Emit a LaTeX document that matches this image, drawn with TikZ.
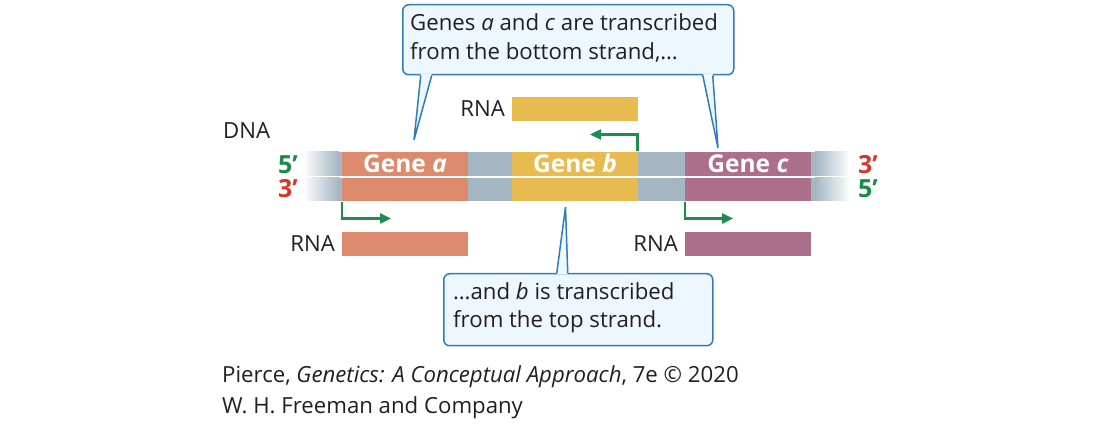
\documentclass[tikz,border=0pt]{standalone}
\usepackage{fontspec}
\setmainfont{Open Sans}
\usetikzlibrary{arrows.meta,calc}
\definecolor{genea}{HTML}{DD8A6D}
\definecolor{geneb}{HTML}{E8BB51}
\definecolor{genec}{HTML}{AB6E8B}
\definecolor{spacer}{HTML}{A3B6C2}
\definecolor{fivecol}{HTML}{1A8A48}
\definecolor{threecol}{HTML}{D0392B}
\definecolor{promcol}{HTML}{1E8C4E}
\definecolor{calloutline}{HTML}{2E7DB8}
\definecolor{calloutfill}{HTML}{EEF7FD}
\definecolor{txt}{HTML}{231F20}
\begin{document}
\begin{tikzpicture}[x=1pt,y=-1pt,
  font=\fontsize{22.2}{29}\selectfont, text=txt,
  bar/.style={inner sep=0pt, outer sep=0pt, minimum height=24pt, anchor=north west},
  genelbl/.style={text=white, font=\fontsize{24.5}{29}\selectfont\bfseries},
  endlbl/.style={font=\fontsize{25}{29}\selectfont\bfseries, inner sep=0pt},
  promoter/.style={draw=promcol, line width=2.4pt, -{Triangle[length=11pt,width=10pt]}},
  callout/.style={draw=calloutline, fill=calloutfill, line width=1.5pt, rounded corners=6pt,
     anchor=north west, align=left, inner sep=0pt},
  pointer/.style={draw=calloutline, line width=1.5pt, line join=miter},
  lbl/.style={inner sep=0pt}]
\useasboundingbox (0,0) rectangle (1100,427);

% ---- DNA strands: spacer background and fading ends
\fill[spacer] (338,152) rectangle (816,176);
\fill[spacer] (338,177.6) rectangle (816,201);
\shade[left color=white, right color=spacer] (303,152) rectangle (339,176);
\shade[left color=white, right color=spacer] (303,177.6) rectangle (339,201);
\shade[left color=spacer, right color=white] (815,152) rectangle (850,176);
\shade[left color=spacer, right color=white] (815,177.6) rectangle (850,201);

% ---- genes
\node[bar, fill=genea, minimum width=126pt] (gaT) at (342,152) {};
\node[bar, fill=genea, minimum width=126pt, minimum height=23.4pt] (gaB) at (342,177.6) {};
\node[bar, fill=geneb, minimum width=126pt] (gbT) at (512,152) {};
\node[bar, fill=geneb, minimum width=126pt, minimum height=23.4pt] (gbB) at (512,177.6) {};
\node[bar, fill=genec, minimum width=126pt] (gcT) at (685,152) {};
\node[bar, fill=genec, minimum width=126pt, minimum height=23.4pt] (gcB) at (685,177.6) {};
\node[genelbl, anchor=base] (gaL) at ($(gaT.center)+(0,9)$) {Gene \textit{a}};
\node[genelbl, anchor=base] (gbL) at ($(gbT.center)+(0,9)$) {Gene \textit{b}};
\node[genelbl, anchor=base] (gcL) at ($(gcT.center)+(0,9)$) {Gene \textit{c}};

% ---- strand ends
\node[endlbl, text=fivecol, anchor=base] (l5) at (288,174) {5’};
\node[endlbl, text=threecol, anchor=base] (l3) at (288,198) {3’};
\node[endlbl, text=threecol, anchor=base] (r3) at (868,174) {3’};
\node[endlbl, text=fivecol, anchor=base] (r5) at (868,198) {5’};
\node[lbl, anchor=base west] (dna) at (223,139) {DNA};

% ---- RNA products
\node[bar, fill=geneb, minimum width=126pt] (rnaB) at (512,97) {};
\node[bar, fill=genea, minimum width=126pt] (rnaA) at (342,232) {};
\node[bar, fill=genec, minimum width=126pt] (rnaC) at (685,232) {};
\node[lbl, anchor=base east] (rnaBl) at ($(rnaB.west)+(-7,8)$) {RNA};
\node[lbl, anchor=base east] (rnaAl) at ($(rnaA.west)+(-7,8)$) {RNA};
\node[lbl, anchor=base east] (rnaCl) at ($(rnaC.west)+(-7,8)$) {RNA};

% ---- promoter arrows
\draw[promoter] ($(gaB.south west)+(0,1)$) |- ($(gaB.south west)+(49,17.5)$);
\draw[promoter] ($(gcB.south west)+(0,1)$) |- ($(gcB.south west)+(48,17.5)$);
\draw[promoter] ($(gbT.north east)+(-0.5,-1)$) |- ($(gbT.north east)+(-48,-17.5)$);

% ---- callouts
\node[callout, minimum width=331pt, minimum height=70pt] (topnote) at (402,4) {};
\node[lbl, anchor=base west] (topt1) at (410,31) {Genes \textit{a} and \textit{c} are transcribed};
\node[lbl, anchor=base west] (topt2) at (410,60) {from the bottom strand,\dots};
\coordinate (tipA) at ($(gaT.north)+(9,-12)$);
\coordinate (tipC) at ($(gcT.north)+(-30,-4)$);
\fill[calloutfill] ($(topnote.south)+(-147.5,-1.5)$) -- (tipA) -- ($(topnote.south)+(-136.5,-1.5)$) -- cycle;
\draw[pointer] ($(topnote.south)+(-147.5,-0.2)$) -- (tipA) -- ($(topnote.south)+(-136.5,-0.2)$);
\fill[calloutfill] ($(topnote.south)+(134.5,-1.5)$) -- (tipC) -- ($(topnote.south)+(144.5,-1.5)$) -- cycle;
\draw[pointer] ($(topnote.south)+(134.5,-0.2)$) -- (tipC) -- ($(topnote.south)+(144.5,-0.2)$);

\node[callout, minimum width=269pt, minimum height=72pt] (botnote) at (443,273) {};
\node[lbl, anchor=base west] (bott1) at (453,300) {\dots and \textit{b} is transcribed};
\node[lbl, anchor=base west] (bott2) at (453,328) {from the top strand.};
\coordinate (tipB) at ($(gbB.south)+(-9.5,6)$);
\fill[calloutfill] ($(botnote.north)+(-21.5,1.5)$) -- (tipB) -- ($(botnote.north)+(-10.5,1.5)$) -- cycle;
\draw[pointer] ($(botnote.north)+(-21.5,0.2)$) -- (tipB) -- ($(botnote.north)+(-10.5,0.2)$);

% ---- credit
\node[lbl, anchor=base west] (cred1) at (222,382) {Pierce, \textit{Genetics: A Conceptual Approach}, 7e © 2020};
\node[lbl, anchor=base west] (cred2) at (222,413) {W. H. Freeman and Company};
\end{tikzpicture}
\end{document}
